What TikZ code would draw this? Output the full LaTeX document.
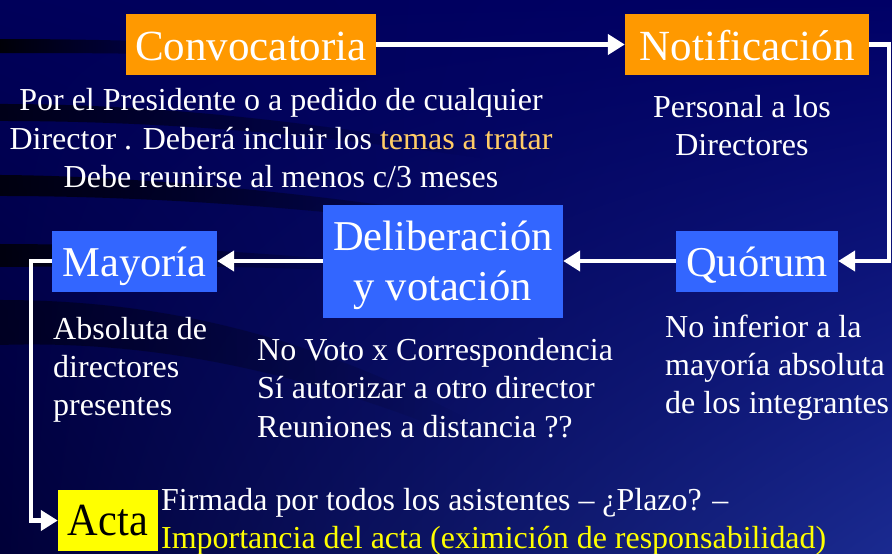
\documentclass[tikz,border=0pt]{standalone}
\usepackage{fontspec}
\setmainfont{Liberation Serif}
\usepackage{graphicx}
\usetikzlibrary{arrows.meta,fadings,shadings}
\definecolor{boxorange}{HTML}{FF9900}
\definecolor{boxblue}{HTML}{3366FF}
\definecolor{boxyellow}{HTML}{FFFF00}
\definecolor{temas}{HTML}{FFCC66}
\definecolor{bgA}{HTML}{00005A}
\definecolor{bgB}{HTML}{000066}
\definecolor{bgC}{HTML}{000038}
\definecolor{bgD}{HTML}{1A2A90}
\tikzset{
  orangebox/.style={fill=boxorange, text=white, inner sep=0pt, font=\fontsize{43}{50}\selectfont, text height=31pt, text depth=0pt},
  bluebox/.style={fill=boxblue, text=white, inner sep=0pt, font=\fontsize{42.5}{50}\selectfont, text height=30pt, text depth=0pt},
  yellowbox/.style={fill=boxyellow, text=black, inner sep=0pt, font=\fontsize{46}{50}\selectfont, text height=29pt, text depth=0pt},
  body/.style={text=white, inner sep=0pt, font=\fontsize{32}{38}\selectfont},
  boxtext/.style={text=white, inner sep=0pt, font=\fontsize{42.5}{50}\selectfont},
  conn/.style={draw=white, line width=4.5pt, -{Triangle[length=17pt,width=20pt]}},
  band/.style={fill=black, path fading=east}
}
\begin{document}
\begin{tikzpicture}[x=1pt,y=-1pt]
% background
\shade[upper left=bgA, upper right=bgB, lower left=bgC, lower right=bgD] (0,0) rectangle (892,554);
\useasboundingbox (0,0) rectangle (892,554);
\fill[band, opacity=0.9] (0,39) .. controls (60,39) and (120,40) .. (200,43) -- (200,55) .. controls (120,53) and (60,53) .. (0,53) -- cycle;
\fill[band, opacity=0.7] (0,104) .. controls (150,104) and (300,120) .. (480,150) -- (480,158) .. controls (300,132) and (150,121) .. (0,121) -- cycle;
\fill[band, opacity=0.8] (0,175) .. controls (150,176) and (330,195) .. (520,225) -- (520,235) .. controls (330,208) and (150,196) .. (0,196) -- cycle;
\fill[band, opacity=0.8] (0,244) .. controls (120,244) and (260,252) .. (360,262) -- (360,272) .. controls (260,265) and (120,266) .. (0,267) -- cycle;
\fill[band, opacity=0.5] (0,300) .. controls (150,300) and (300,330) .. (470,420) -- (470,440) .. controls (300,370) and (150,340) .. (0,345) -- cycle;

% boxes
\node[orangebox, minimum width=250pt, minimum height=61pt] (conv) at (251,44.5) {Convocatoria};
\node[orangebox, minimum width=244pt, minimum height=61pt] (notif) at (747,44.5) {Notificación};
\node[bluebox, minimum width=162pt, minimum height=61pt] (quorum) at (757,261) {Quórum};
\node[fill=boxblue, inner sep=0pt, minimum width=240pt, minimum height=113pt] (delib) at (443,261) {};
\node[boxtext, anchor=base] (delibA) at (443,250) {Deliberación};
\node[boxtext, anchor=base] (delibB) at (443,300) {y votación};
\node[bluebox, minimum width=165pt, minimum height=61pt] (mayoria) at (134.5,261) {Mayoría};
\node[yellowbox, minimum width=100pt, minimum height=61pt] (acta) at (108,520.5) {\resizebox{80pt}{\height}{Acta}};

% connectors
\draw[conn] (conv.east) -- (notif.west);
\draw[conn] (notif.east) -- ++(20,0) coordinate (rc) |- (quorum.east);
\draw[conn] (quorum.west) -- (delib.east);
\draw[conn] (delib.west) -- (mayoria.east);
\draw[conn] (mayoria.west) -- ++(-21,0) coordinate (lc) |- (acta.west);

% texts
\node[body, anchor=base] (c1) at (281,110) {Por el Presidente o a pedido de cualquier};
\node[body, anchor=base] (c2) at (281,149) {Director . Deberá incluir los \textcolor{temas}{temas a tratar}};
\node[body, anchor=base] (c3) at (281,187) {Debe reunirse al menos c/3 meses};
\node[body, anchor=base] (n1) at (742,117) {Personal a los};
\node[body, anchor=base] (n2) at (742,155) {Directores};
\node[body, anchor=base west] (m1) at (53,339) {Absoluta de};
\node[body, anchor=base west] (m2) at (53,377) {directores};
\node[body, anchor=base west] (m3) at (53,415) {presentes};
\node[body, anchor=base west] (d1) at (257,360) {No Voto x Correspondencia};
\node[body, anchor=base west] (d2) at (257,398) {Sí autorizar a otro director};
\node[body, anchor=base west] (d3) at (257,437) {Reuniones a distancia ??};
\node[body, anchor=base west] (q1) at (665,337) {No inferior a la};
\node[body, anchor=base west] (q2) at (665,375) {mayoría absoluta};
\node[body, anchor=base west] (q3) at (665,413) {de los integrantes};
\node[body, anchor=base west] (a1) at (161,510) {\resizebox{567pt}{\height}{Firmada por todos los asistentes – ¿Plazo? –}};
\node[body, anchor=base west, text=boxyellow] (a2) at (161,548) {\resizebox{665pt}{\height}{Importancia del acta (eximición de responsabilidad)}};
\end{tikzpicture}
\end{document}
